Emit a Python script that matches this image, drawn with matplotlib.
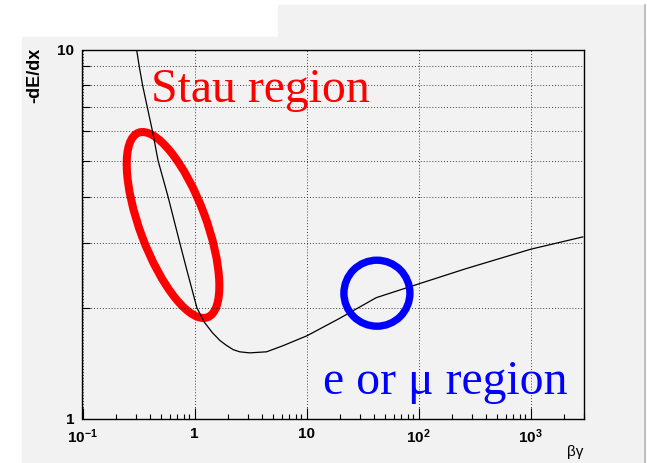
import numpy as np
import matplotlib
matplotlib.use("Agg")
import matplotlib.pyplot as plt
from matplotlib.patches import Ellipse, Rectangle
from matplotlib.lines import Line2D
from matplotlib.transforms import IdentityTransform
from matplotlib.ticker import FixedLocator, LogLocator, NullFormatter

# energy loss curve read point by point
betagamma = [0.304, 0.321, 0.344, 0.378, 0.422, 0.473, 0.58, 0.738, 0.863, 1.05,
             1.22, 1.45, 1.69, 1.94, 2.22, 2.53, 3.1, 4.4, 6.2, 10.1,
             19.6, 41.9, 100, 263, 1000, 2925]
dedx = [10, 9, 8, 7, 6, 5, 4, 3, 2.5, 2,
        1.83, 1.71, 1.63, 1.58, 1.54, 1.52, 1.51, 1.52, 1.58, 1.68,
        1.87, 2.13, 2.32, 2.55, 2.88, 3.11]

xticks = [0.1, 1, 10, 100, 1000]
xticklabels = ["10$^{-1}$", "1", "10", "10$^{2}$", "10$^{3}$"]
yticks = [1, 10]
yticklabels = ["1", "10"]

# regions marked on the plot (centre in beta*gamma, dE/dx)
stau_centre = (0.643, 3.35)
lepton_centre = (42.5, 2.19)

plt.rcParams.update({
    "font.family": "Liberation Sans",
    "mathtext.fontset": "custom",
    "mathtext.rm": "Liberation Sans:bold",
    "mathtext.bf": "Liberation Sans:bold",
    "mathtext.default": "bf",
})

W, H = 647, 463
fig = plt.figure(figsize=(W / 100, H / 100), dpi=100)
gray = "#f2f2f2"
fig.add_artist(Rectangle((22 / W, 0), (645 - 22) / W, 1 - 37 / H,
                         transform=fig.transFigure, color=gray, zorder=0))
fig.add_artist(Rectangle((278 / W, 0), (645 - 278) / W, 1 - 5 / H,
                         transform=fig.transFigure, color=gray, zorder=0))
fig.add_artist(Line2D([645 / W, 645 / W], [0, 1 - 5 / H], transform=fig.transFigure,
                      color="#b5b5b5", lw=1.2))

ax = fig.add_axes([82.5 / W, 1 - 419 / H, (584 - 82.5) / W, (419 - 49.5) / H])
ax.set_facecolor(gray)
ax.set_xscale("log")
ax.set_yscale("log")
ax.set_xlim(0.1, 3000)
ax.set_ylim(1, 10)

ax.plot(betagamma, dedx, color="black", lw=0.9, zorder=2)

ax.xaxis.set_major_locator(FixedLocator(xticks))
ax.set_xticklabels(xticklabels, fontsize=11, fontweight="bold")
ax.xaxis.set_minor_locator(LogLocator(base=10, subs=np.arange(2, 10) * 1.0, numticks=20))
ax.xaxis.set_minor_formatter(NullFormatter())
ax.yaxis.set_major_locator(FixedLocator(yticks))
ax.set_yticklabels(yticklabels, fontsize=11, fontweight="bold")
ax.yaxis.set_minor_locator(LogLocator(base=10, subs=np.arange(2, 10) * 1.0, numticks=20))
ax.yaxis.set_minor_formatter(NullFormatter())

ax.tick_params(which="both", direction="in", top=False, right=False, width=0.8)
ax.tick_params(axis="x", which="major", length=8, pad=6)
ax.tick_params(axis="x", which="minor", length=3.6)
ax.tick_params(axis="y", which="major", length=0, pad=6)
ax.tick_params(axis="y", which="minor", length=5.5)
for s in ax.spines.values():
    s.set_linewidth(1.0)

dots = (0, (1, 2.5))
ax.grid(True, which="major", axis="x", color="black", lw=0.6, linestyle=dots)
ax.grid(True, which="minor", axis="y", color="black", lw=0.6, linestyle=dots)

ax.text(-0.095, 1.004, "-dE/dx", rotation=90, ha="center", va="top",
        fontsize=13, fontweight="bold", transform=ax.transAxes)
ax.text(0.9986, -0.089, "βγ", ha="right", va="center", fontsize=11,
        transform=ax.transAxes)

ax.text(0.1366, 0.8587, "Stau region", transform=ax.transAxes, color="#ff0000",
        fontsize=34.4, family="Liberation Serif", ha="left", va="baseline")
ax.text(0.4796, 0.0677, "e or μ region", transform=ax.transAxes, color="#0000ff",
        fontsize=34.4, family="Liberation Serif", ha="left", va="baseline")

# rings drawn in pixel units around the two regions
cx, cy = ax.transData.transform(stau_centre)
ax.add_artist(Ellipse((cx, cy), 66, 197, angle=20.5, fill=False, edgecolor="#ff0000",
                      lw=5.8, transform=IdentityTransform(), clip_on=False, zorder=1.5))
cx, cy = ax.transData.transform(lepton_centre)
ax.add_artist(Ellipse((cx, cy), 66, 66, fill=False, edgecolor="#0000ff",
                      lw=5.3, transform=IdentityTransform(), clip_on=False, zorder=3))

fig.savefig("out.png", dpi=100, facecolor="white")
